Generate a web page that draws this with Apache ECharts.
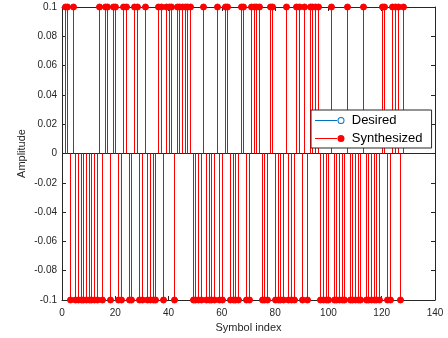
<!DOCTYPE html>
<html>
<head>
<meta charset="utf-8">
<script src="https://cdn.jsdelivr.net/npm/echarts@6/dist/echarts.min.js"></script>
<style>
  html, body { margin: 0; padding: 0; background: #fff; }
  #chart { width: 448px; height: 338px; }
</style>
</head>
<body>
<div id="chart"></div>
<script>
// symbol indices 1..128
const symbolIndex = [
  1, 2, 3, 4, 5, 6, 7, 8, 9, 10, 11, 12, 13, 14, 15, 16, 17, 18, 19, 20,
  21, 22, 23, 24, 25, 26, 27, 28, 29, 30, 31, 32, 33, 34, 35, 36, 37, 38, 39, 40,
  41, 42, 43, 44, 45, 46, 47, 48, 49, 50, 51, 52, 53, 54, 55, 56, 57, 58, 59, 60,
  61, 62, 63, 64, 65, 66, 67, 68, 69, 70, 71, 72, 73, 74, 75, 76, 77, 78, 79, 80,
  81, 82, 83, 84, 85, 86, 87, 88, 89, 90, 91, 92, 93, 94, 95, 96, 97, 98, 99, 100,
  101, 102, 103, 104, 105, 106, 107, 108, 109, 110, 111, 112, 113, 114, 115, 116, 117, 118, 119, 120,
  121, 122, 123, 124, 125, 126, 127, 128
];

// amplitudes
const synthesized = [
  0.1, 0.1, -0.1, 0.1, -0.1, -0.1, -0.1, -0.1, -0.1, -0.1, -0.1, -0.1, -0.1, 0.1, -0.1, 0.1, 0.1, -0.1, 0.1, 0.1,
  -0.1, -0.1, 0.1, 0.1, -0.1, -0.1, 0.1, 0.1, -0.1, -0.1, 0.1, -0.1, -0.1, -0.1, -0.1, 0.1, 0.1, -0.1, 0.1, 0.1,
  0.1, -0.1, 0.1, 0.1, 0.1, 0.1, 0.1, 0.1, -0.1, -0.1, -0.1, -0.1, 0.1, -0.1, -0.1, -0.1, -0.1, 0.1, -0.1, -0.1,
  0.1, 0.1, -0.1, -0.1, -0.1, -0.1, 0.1, 0.1, -0.1, -0.1, 0.1, 0.1, 0.1, 0.1, -0.1, -0.1, -0.1, 0.1, 0.1, -0.1,
  -0.1, -0.1, -0.1, 0.1, -0.1, -0.1, -0.1, 0.1, 0.1, -0.1, 0.1, -0.1, 0.1, 0.1, 0.1, 0.1, -0.1, -0.1, -0.1, -0.1,
  0.1, -0.1, -0.1, -0.1, -0.1, -0.1, 0.1, -0.1, -0.1, -0.1, -0.1, -0.1, 0.1, -0.1, -0.1, -0.1, -0.1, -0.1, -0.1, 0.1,
  0.1, -0.1, -0.1, 0.1, 0.1, 0.1, -0.1, 0.1
];
const desired = synthesized.slice();

const xTicks = { min: 0, max: 140, interval: 20 };
const yTicks = { min: -0.1, max: 0.1, interval: 0.02 };

const FONT = 'Liberation Sans';
const AXIS_COLOR = '#262626';
const BLUE = '#0072BD';
const RED = '#FF0000';

// stem: line from baseline to value, plus a marker
function stemRenderer(color, filled, withLine) {
  return (params, api) => {
    const x = api.value(0);
    const y = api.value(1);
    const base = api.coord([x, 0]);
    const tip = api.coord([x, y]);
    const px = Math.round(base[0]) + 0.5;
    const children = [];
    if (withLine) {
      children.push({
        type: 'rect',
        shape: { x: px - 0.5, y: Math.min(base[1], tip[1]), width: 1, height: Math.abs(tip[1] - base[1]) },
        style: { fill: color }
      });
    }
    children.push({
      type: 'circle',
      shape: { cx: px, cy: tip[1], r: filled ? 3 : 2.5 },
      style: { fill: filled ? color : '#fff', stroke: color, lineWidth: 1 }
    });
    return { type: 'group', children };
  };
}

const chart = echarts.init(document.getElementById('chart'));

const axisCommon = {
  axisLine: { show: true, onZero: false, lineStyle: { color: AXIS_COLOR, width: 1 } },
  axisTick: { show: true, inside: true, length: 4, lineStyle: { color: AXIS_COLOR } },
  splitLine: { show: false }
};

chart.setOption({
  animation: false,
  grid: { left: 62, right: 13, top: 7, bottom: 38, containLabel: false },
  xAxis: [
    {
      type: 'value',
      ...xTicks,
      ...axisCommon,
      name: 'Symbol index',
      nameLocation: 'middle',
      nameGap: 22,
      nameMoveOverlap: false,
      nameTextStyle: { fontFamily: FONT, fontSize: 11, color: AXIS_COLOR },
      axisLabel: { fontFamily: FONT, fontSize: 10, color: AXIS_COLOR, margin: 8 }
    },
    {
      type: 'value',
      position: 'top',
      ...xTicks,
      ...axisCommon,
      axisLabel: { show: false }
    }
  ],
  yAxis: [
    {
      type: 'value',
      ...yTicks,
      ...axisCommon,
      name: 'Amplitude',
      nameLocation: 'middle',
      nameGap: 35,
      nameMoveOverlap: false,
      nameTextStyle: { fontFamily: FONT, fontSize: 11, color: AXIS_COLOR },
      axisLabel: {
        fontFamily: FONT, fontSize: 10, color: AXIS_COLOR, margin: 5,
        formatter: (v) => String(parseFloat(v.toFixed(2)))
      }
    },
    {
      type: 'value',
      position: 'right',
      ...yTicks,
      ...axisCommon,
      axisLabel: { show: false }
    }
  ],
  legend: {
    orient: 'vertical',
    left: 311,
    top: 110,
    padding: [4, 9, 3, 4],
    itemGap: 5,
    itemWidth: 30,
    itemHeight: 7,
    backgroundColor: '#fff',
    borderColor: AXIS_COLOR,
    borderWidth: 1,
    borderRadius: 0,
    textStyle: { fontFamily: FONT, fontSize: 13, color: '#000', padding: [0, 0, 0, 2] },
    data: [
      {
        name: 'Desired',
        icon: 'path://M0,4.5h23v1H0z M22.5,5a3.5,3.5 0 1,0 7,0a3.5,3.5 0 1,0 -7,0z M23.5,5a2.5,2.5 0 1,1 5,0a2.5,2.5 0 1,1 -5,0z',
        itemStyle: { color: BLUE }
      },
      {
        name: 'Synthesized',
        icon: 'path://M0,4.5h23v1H0z M22.5,5a3.5,3.5 0 1,0 7,0a3.5,3.5 0 1,0 -7,0z',
        itemStyle: { color: RED }
      }
    ]
  },
  series: [
    {
      name: 'Desired',
      type: 'custom',
      clip: false,
      z: 2,
      itemStyle: { color: BLUE },
      renderItem: stemRenderer(BLUE, false, false),
      data: symbolIndex.map((s, i) => [s, desired[i]]),
      markLine: {
        silent: true,
        symbol: 'none',
        z: 1,
        label: { show: false },
        lineStyle: { color: AXIS_COLOR, width: 1, type: 'solid' },
        data: [{ yAxis: 0 }]
      }
    },
    {
      name: 'Synthesized',
      type: 'custom',
      clip: false,
      z: 3,
      itemStyle: { color: RED },
      renderItem: stemRenderer(RED, true, true),
      data: symbolIndex.map((s, i) => [s, synthesized[i]])
    }
  ]
});
</script>
</body>
</html>
